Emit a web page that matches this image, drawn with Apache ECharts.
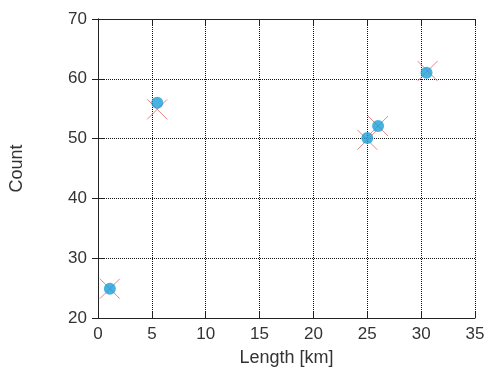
<!DOCTYPE html>
<html>
<head>
<meta charset="utf-8">
<script src="https://cdn.jsdelivr.net/npm/echarts@6/dist/echarts.min.js"></script>
<style>
  html, body { margin: 0; padding: 0; background: #fff; }
  #chart { width: 485px; height: 371px; }
</style>
</head>
<body>
<div id="chart"></div>
<script>
// measured points (blue dots)
var measuredX = [1.1, 5.5, 25.0, 26.0, 30.5];
var measuredY = [24.9, 56.0, 50.1, 52.1, 61.0];
// fitted/expected points (red crosses)
var expectedX = [1.1, 5.5, 25.0, 26.0, 30.6];
var expectedY = [24.9, 54.9, 49.8, 52.1, 61.3];

var xTicks = [0, 5, 10, 15, 20, 25, 30, 35];
var yTicks = [20, 30, 40, 50, 60, 70];

function pairs(xs, ys) {
  var out = [];
  for (var i = 0; i < xs.length; i++) {
    out.push([xs[i], ys[i]]);
  }
  return out;
}

var chart = echarts.init(document.getElementById('chart'));

var tickFont = { fontFamily: 'Liberation Sans, Arial, sans-serif', fontSize: 17, color: '#333' };
var nameFont = { fontFamily: 'Liberation Sans, Arial, sans-serif', fontSize: 18, color: '#333' };
var axisLine = { show: true, lineStyle: { color: '#222', width: 1 } };
var tick = { show: true, inside: true, length: 6, lineStyle: { color: '#222' } };
var dotted = { show: true, lineStyle: { color: '#111', type: 'dotted', width: 1 } };

var option = {
  animation: false,
  grid: { left: 98, right: 10, top: 19, bottom: 53, outerBoundsMode: 'none' },
  xAxis: [{
    type: 'value',
    min: xTicks[0],
    max: xTicks[xTicks.length - 1],
    interval: 5,
    name: 'Length [km]',
    nameLocation: 'middle',
    nameGap: 31,
    nameTextStyle: nameFont,
    axisLine: axisLine,
    axisTick: tick,
    axisLabel: Object.assign({ margin: 8 }, tickFont),
    splitLine: dotted
  }, {
    type: 'value',
    position: 'top',
    min: xTicks[0],
    max: xTicks[xTicks.length - 1],
    interval: 5,
    axisLine: axisLine,
    axisTick: tick,
    axisLabel: { show: false },
    splitLine: { show: false }
  }],
  yAxis: [{
    type: 'value',
    min: yTicks[0],
    max: yTicks[yTicks.length - 1],
    interval: 10,
    name: 'Count',
    nameLocation: 'middle',
    nameRotate: 90,
    nameGap: 72,
    nameTextStyle: nameFont,
    axisLine: axisLine,
    axisTick: tick,
    axisLabel: Object.assign({ margin: 11 }, tickFont),
    splitLine: dotted
  }, {
    type: 'value',
    position: 'right',
    min: yTicks[0],
    max: yTicks[yTicks.length - 1],
    interval: 10,
    axisLine: axisLine,
    axisTick: tick,
    axisLabel: { show: false },
    splitLine: { show: false }
  }],
  series: [{
    name: 'expected',
    type: 'scatter',
    data: pairs(expectedX, expectedY),
    symbol: 'path://M0,0L10,10M10,0L0,10',
    symbolSize: 20,
    itemStyle: { color: 'none', borderColor: '#e06a6a', borderWidth: 1 },
    z: 2
  }, {
    name: 'measured',
    type: 'scatter',
    data: pairs(measuredX, measuredY),
    symbol: 'circle',
    symbolSize: 12,
    itemStyle: { color: '#1a9fd8' },
    z: 3
  }]
};

chart.setOption(option);
</script>
</body>
</html>
